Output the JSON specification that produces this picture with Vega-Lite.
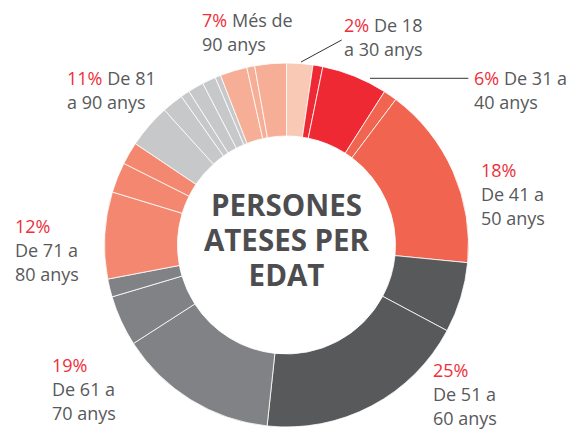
{
  "$schema": "https://vega.github.io/schema/vega-lite/v6.json",
  "width": 573,
  "height": 370,
  "autosize": {"type": "none"},
  "padding": {"left": 0, "top": 60, "right": 13, "bottom": 0},
  "background": "white",
  "config": {"view": {"stroke": null}},
  "datasets": {
    "segs": [
      {"i": 1, "g": "De 18 a 30 anys", "v": 2.33},
      {"i": 2, "g": "De 31 a 40 anys", "v": 0.87},
      {"i": 3, "g": "De 31 a 40 anys", "v": 5.85},
      {"i": 4, "g": "De 41 a 50 anys", "v": 1.2},
      {"i": 5, "g": "De 41 a 50 anys", "v": 16.3},
      {"i": 6, "g": "De 51 a 60 anys", "v": 6.25},
      {"i": 7, "g": "De 51 a 60 anys", "v": 18.9},
      {"i": 8, "g": "De 61 a 70 anys", "v": 14.2},
      {"i": 9, "g": "De 61 a 70 anys", "v": 4.5},
      {"i": 10, "g": "De 61 a 70 anys", "v": 1.6},
      {"i": 11, "g": "De 71 a 80 anys", "v": 7.7},
      {"i": 12, "g": "De 71 a 80 anys", "v": 2.7},
      {"i": 13, "g": "De 71 a 80 anys", "v": 2.0},
      {"i": 14, "g": "De 81 a 90 anys", "v": 3.9},
      {"i": 15, "g": "De 81 a 90 anys", "v": 1.9},
      {"i": 16, "g": "De 81 a 90 anys", "v": 0.8},
      {"i": 17, "g": "De 81 a 90 anys", "v": 1.4},
      {"i": 18, "g": "De 81 a 90 anys", "v": 1.2},
      {"i": 19, "g": "De 81 a 90 anys", "v": 0.5},
      {"i": 20, "g": "Més de 90 anys", "v": 2.4},
      {"i": 21, "g": "Més de 90 anys", "v": 0.7},
      {"i": 22, "g": "Més de 90 anys", "v": 2.8}
    ],
    "labels": [
      {"pct": "7%", "first": "Més de", "rest": "90 anys", "lx": -0.4643, "ly": 1.1978},
      {"pct": "2%", "first": "De 18", "rest": "a 30 anys", "lx": 0.3159, "ly": 1.1703},
      {"pct": "6%", "first": "De 31 a", "rest": "40 anys", "lx": 1.0302, "ly": 0.8791},
      {"pct": "18%", "first": "", "rest": "De 41 a\n50 anys", "lx": 1.0687, "ly": 0.3736},
      {"pct": "25%", "first": "", "rest": "De 51 a\n60 anys", "lx": 0.8049, "ly": -0.7253},
      {"pct": "19%", "first": "", "rest": "De 61 a\n70 anys", "lx": -1.2885, "ly": -0.6978},
      {"pct": "12%", "first": "", "rest": "De 71 a\n80 anys", "lx": -1.4918, "ly": 0.0659},
      {"pct": "11%", "first": "De 81", "rest": "a 90 anys", "lx": -1.206, "ly": 0.8791}
    ],
    "leaders": [
      {"lead": "a", "k": 1, "lx": 0.0797, "ly": 1.0055},
      {"lead": "a", "k": 2, "lx": 0.3033, "ly": 1.1264},
      {"lead": "b", "k": 1, "lx": 0.4588, "ly": 0.9159},
      {"lead": "b", "k": 2, "lx": 0.9989, "ly": 0.9159}
    ],
    "center": [
      {"t": "PERSONES", "lx": 0, "ly": 0.2115},
      {"t": "ATESES PER", "lx": 0, "ly": 0.0165},
      {"t": "EDAT", "lx": 0, "ly": -0.1758}
    ]
  },
  "layer": [
    {
      "data": {"name": "segs"},
      "mark": {"type": "arc", "innerRadius": 109, "outerRadius": 182, "stroke": "white", "strokeWidth": 0.8},
      "encoding": {
        "theta": {"field": "v", "type": "quantitative", "stack": true},
        "order": {"field": "i", "type": "quantitative"},
        "color": {
          "field": "g", "type": "nominal", "legend": null,
          "scale": {
            "domain": ["De 18 a 30 anys", "De 31 a 40 anys", "De 41 a 50 anys", "De 51 a 60 anys", "De 61 a 70 anys", "De 71 a 80 anys", "De 81 a 90 anys", "Més de 90 anys"],
            "range": ["#f9c9b6", "#ee2934", "#f06450", "#58595b", "#808285", "#f4876f", "#c7c8ca", "#f6ae96"]
          }
        }
      }
    },
    {
      "data": {"name": "leaders"},
      "mark": {"type": "line", "color": "#333333", "strokeWidth": 1},
      "encoding": {
        "x": {"field": "lx", "type": "quantitative", "axis": null, "scale": {"domain": [-1.5742, 1.5742], "nice": false, "zero": false}},
        "y": {"field": "ly", "type": "quantitative", "axis": null, "scale": {"domain": [-1.0165, 1.0165], "nice": false, "zero": false}},
        "detail": {"field": "lead", "type": "nominal"},
        "order": {"field": "k", "type": "quantitative"}
      }
    },
    {
      "data": {"name": "labels"},
      "mark": {"type": "text", "align": "left", "baseline": "alphabetic", "font": "Open Sans", "fontSize": 18, "color": "#ee2f3b"},
      "encoding": {
        "x": {"field": "lx", "type": "quantitative", "axis": null, "scale": {"domain": [-1.5742, 1.5742], "nice": false, "zero": false}},
        "y": {"field": "ly", "type": "quantitative", "axis": null, "scale": {"domain": [-1.0165, 1.0165], "nice": false, "zero": false}},
        "text": {"field": "pct"}
      }
    },
    {
      "data": {"name": "labels"},
      "mark": {"type": "text", "align": "left", "baseline": "alphabetic", "font": "Open Sans", "fontSize": 18, "color": "#58595b", "dx": {"expr": "(length(datum.pct)-1)*10.3+19.7"}},
      "encoding": {
        "x": {"field": "lx", "type": "quantitative", "axis": null, "scale": {"domain": [-1.5742, 1.5742], "nice": false, "zero": false}},
        "y": {"field": "ly", "type": "quantitative", "axis": null, "scale": {"domain": [-1.0165, 1.0165], "nice": false, "zero": false}},
        "text": {"field": "first"}
      }
    },
    {
      "data": {"name": "labels"},
      "mark": {"type": "text", "align": "left", "baseline": "alphabetic", "font": "Open Sans", "fontSize": 18, "color": "#58595b", "dy": 24, "lineBreak": "\n", "lineHeight": 24},
      "encoding": {
        "x": {"field": "lx", "type": "quantitative", "axis": null, "scale": {"domain": [-1.5742, 1.5742], "nice": false, "zero": false}},
        "y": {"field": "ly", "type": "quantitative", "axis": null, "scale": {"domain": [-1.0165, 1.0165], "nice": false, "zero": false}},
        "text": {"field": "rest"}
      }
    },
    {
      "data": {"name": "center"},
      "mark": {"type": "text", "align": "center", "baseline": "middle", "font": "Open Sans", "fontSize": 29.5, "fontWeight": "bold", "color": "#4d4d4f"},
      "encoding": {
        "x": {"field": "lx", "type": "quantitative", "axis": null, "scale": {"domain": [-1.5742, 1.5742], "nice": false, "zero": false}},
        "y": {"field": "ly", "type": "quantitative", "axis": null, "scale": {"domain": [-1.0165, 1.0165], "nice": false, "zero": false}},
        "text": {"field": "t"}
      }
    }
  ]
}
